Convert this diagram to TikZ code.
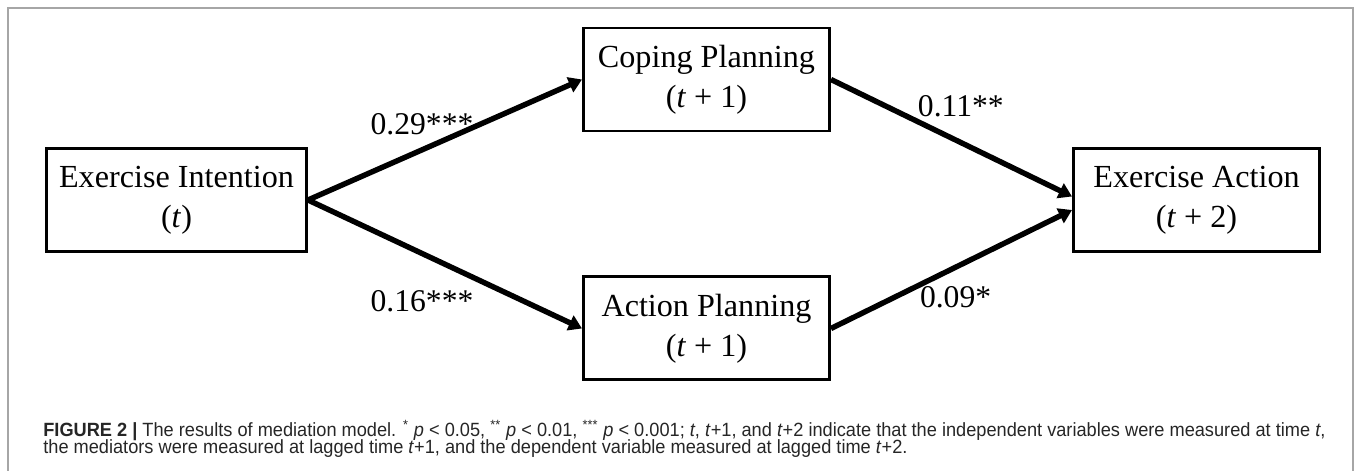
\documentclass[tikz,border=0pt]{standalone}
\usepackage{fontspec}
\setmainfont{Liberation Serif}
\newfontfamily\capfont[FakeStretch=0.95]{Liberation Sans}
\usetikzlibrary{positioning,arrows.meta}

\begin{document}
\begin{tikzpicture}
  \tikzset{var/.style={rectangle, draw, line width=1.7pt, minimum width=4.92cm, minimum height=2.06cm, align=center, font=\fontsize{18.3}{22.7}\selectfont},
    link/.style={-{Triangle[length=7.5pt,width=9pt]}, line width=3.1pt},
    coef/.style={font=\fontsize{18}{22}\selectfont, inner sep=0pt},
    captext/.style={anchor=base west, inner sep=0pt, font=\capfont\fontsize{10.9}{13}\selectfont, text=black!85}}
  \useasboundingbox (0,0) rectangle (27.14,-9.42);
  % panel frame
  \draw[gray!70, line width=1pt] (0.16,-9.6) -- (0.16,-0.16) -- (27.06,-0.16) -- (27.06,-9.6);
  \node[var, minimum width=5.2cm] (intent) at (3.53,-4.0) {Exercise Intention\\(\textit{t})};
  \node[var, right=5.48cm of intent, yshift=2.41cm] (coping) {Coping Planning\\(\textit{t} + 1)};
  \node[var, below=2.86cm of coping] (plan) {Action Planning\\(\textit{t} + 1)};
  \node[var, right=15.28cm of intent] (act) {Exercise Action\\(\textit{t} + 2)};
  \draw[link] (intent.east) -- node[coef, pos=0.416, yshift=0.52cm] (c1) {0.29***} (coping.west);
  \draw[link] (intent.east) -- node[coef, pos=0.416, yshift=-0.96cm] (c2) {0.16***} (plan.west);
  \draw[link] (coping.east) -- node[coef, pos=0.539, yshift=0.73cm] (c3) {0.11**} ([yshift=0.07cm]act.west);
  \draw[link] (plan.east) -- node[coef, pos=0.517, yshift=-0.6cm] (c4) {0.09*} ([yshift=-0.2cm]act.west);
  % caption
  \node[captext] (cap1) at (0.86,-8.72) {\textbf{FIGURE 2 |} The results of mediation model. \textsuperscript{*} \textit{p} < 0.05, \textsuperscript{**} \textit{p} < 0.01, \textsuperscript{***} \textit{p} < 0.001; \textit{t}, \textit{t}+1, and \textit{t}+2 indicate that the independent variables were measured at time \textit{t},};
  \node[captext] (cap2) at (0.86,-9.07) {the mediators were measured at lagged time \textit{t}+1, and the dependent variable measured at lagged time \textit{t}+2.};
\end{tikzpicture}
\end{document}
